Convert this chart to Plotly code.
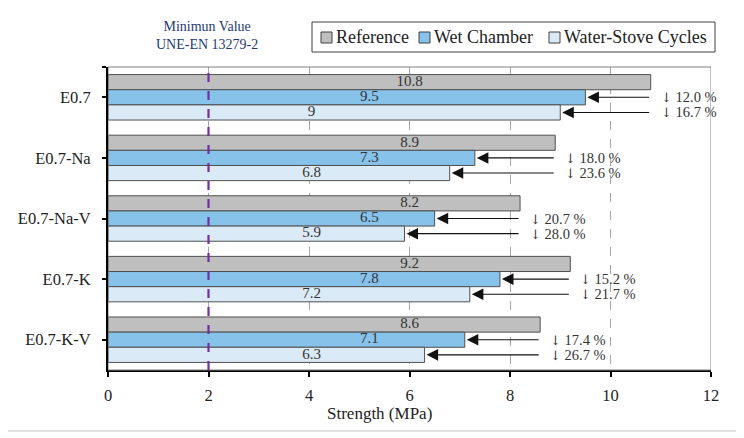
import plotly.graph_objects as go

categories = ["E0.7", "E0.7-Na", "E0.7-Na-V", "E0.7-K", "E0.7-K-V"]
series_names = ["Reference", "Wet Chamber", "Water-Stove Cycles"]
reference = [10.8, 8.9, 8.2, 9.2, 8.6]
wet_chamber = [9.5, 7.3, 6.5, 7.8, 7.1]
water_stove = [9.0, 6.8, 5.9, 7.2, 6.3]
wet_drop = ["12.0", "18.0", "20.7", "15.2", "17.4"]
cycle_drop = ["16.7", "23.6", "28.0", "21.7", "26.7"]
x_ticks = [0, 2, 4, 6, 8, 10, 12]
min_value = 2

FONT = "Liberation Serif"
colors = ["#BFBFBF", "#86C2EA", "#DBEAF7"]
label_x = [6.0, 5.2, 4.05]
BAR_W = 0.25
ypos = list(range(len(categories)))

# page offset of the figure (browser body margin) and plot-area geometry in page pixels
OFF = 8
W, H = 744 - OFF, 438 - OFF
L, R, T, B = 108 - OFF, 711 - OFF, 67 - OFF, 370 - OFF
def px(x):
    return (x - OFF - L) / (R - L)
def py(y):
    return (B - (y - OFF)) / (B - T)

fig = go.Figure()
all_series = [reference, wet_chamber, water_stove]
for k, (name, vals, col) in enumerate(zip(series_names, all_series, colors)):
    fig.add_trace(go.Bar(
        y=ypos, x=vals, orientation="h", name=name,
        width=BAR_W, offset=-1.5 * BAR_W + k * BAR_W,
        marker=dict(color=col, line=dict(color="#505050", width=1)),
        hoverinfo="skip", showlegend=False,
    ))
for k, vals in enumerate(all_series):
    fig.add_trace(go.Scatter(
        x=[label_x[k]] * len(vals), y=[i + (k - 1) * BAR_W for i in ypos],
        mode="text", text=[f"{v:g}" for v in vals],
        textfont=dict(family=FONT, size=15, color="#333333"),
        showlegend=False, hoverinfo="skip",
    ))

annotations = []
for i in ypos:
    for k, (vals, drops) in enumerate([(wet_chamber, wet_drop), (water_stove, cycle_drop)], start=1):
        yy = i + (k - 1) * BAR_W
        annotations.append(dict(
            x=vals[i], y=yy, xref="x", yref="y",
            ax=reference[i], ay=yy, axref="x", ayref="y",
            showarrow=True, arrowhead=2, arrowsize=2.1, arrowwidth=1.1,
            arrowcolor="#111111", standoff=2, text="",
        ))
        annotations.append(dict(
            x=reference[i] + 0.16, y=yy, xref="x", yref="y",
            text=f"<span style='font-family:DejaVu Serif;font-size:13px'>\u2193</span> {drops[i]} %",
            showarrow=False, xanchor="left", yanchor="middle",
            font=dict(family=FONT, size=14.5, color="#333333"),
        ))

annotations.append(dict(
    x=1.97, y=py(36), xref="x", yref="paper", showarrow=False,
    text="Minimun Value<br>UNE-EN 13279-2", align="center", yanchor="middle",
    font=dict(family=FONT, size=14, color="#1F3A73"),
))
annotations.append(dict(
    x=px(379), y=py(413), xref="paper", yref="paper", showarrow=False, yanchor="middle",
    text="Strength (MPa)", font=dict(family=FONT, size=17, color="#222222"),
))

shapes = [
    dict(type="rect", xref="paper", yref="paper", x0=px(5), x1=px(739), y0=py(431), y1=py(5),
         line=dict(color="#D9D9D9", width=1.5), layer="below"),
    dict(type="rect", xref="x", yref="paper", x0=0, x1=12, y0=0, y1=1,
         line=dict(color="#808080", width=1), layer="above"),
    dict(type="line", xref="x", yref="paper", x0=min_value, x1=min_value, y0=0, y1=1,
         line=dict(color="#7030A0", width=2.2, dash="dash"), layer="above"),
    # legend box
    dict(type="rect", xref="paper", yref="paper", x0=px(312), x1=px(715), y0=py(52), y1=py(22),
         line=dict(color="#404040", width=1), fillcolor="white", layer="above"),
]
# legend entries
sq_left = [321, 419, 549]
for name, col, sx in zip(series_names, colors, sq_left):
    shapes.append(dict(type="rect", xref="paper", yref="paper",
                       x0=px(sx), x1=px(sx + 11), y0=py(43), y1=py(32),
                       line=dict(color="#404040", width=1), fillcolor=col, layer="above"))
    annotations.append(dict(x=px(sx + 13), y=py(37), xref="paper", yref="paper",
                            text=name, showarrow=False, xanchor="left", yanchor="middle",
                            font=dict(family=FONT, size=18, color="#222222")))

fig.update_layout(
    width=W, height=H,
    margin=dict(l=L, r=W - R, t=T, b=H - B, autoexpand=False),
    paper_bgcolor="white", plot_bgcolor="white",
    barmode="overlay",
    font=dict(family=FONT, size=16, color="#222222"),
    showlegend=False,
    annotations=annotations, shapes=shapes,
    xaxis=dict(range=[0, 12], tickvals=x_ticks, showgrid=True, gridcolor="#A6A6A6",
               griddash="dash", gridwidth=1, zeroline=False, showline=True,
               linecolor="black", linewidth=2, ticks="outside", ticklen=5,
               tickcolor="black", tickwidth=1.5, tickfont=dict(size=16.5),
               ticklabelstandoff=4),
    yaxis=dict(range=[4.5, -0.5], tickvals=[-0.5] + ypos, ticktext=[""] + categories,
               showgrid=False, zeroline=False, showline=True, linecolor="black",
               linewidth=2, ticks="outside", ticklen=4, tickcolor="black", tickwidth=1.5,
               tickfont=dict(size=16.5), ticklabelstandoff=8),
)

fig.write_html("out.html")
